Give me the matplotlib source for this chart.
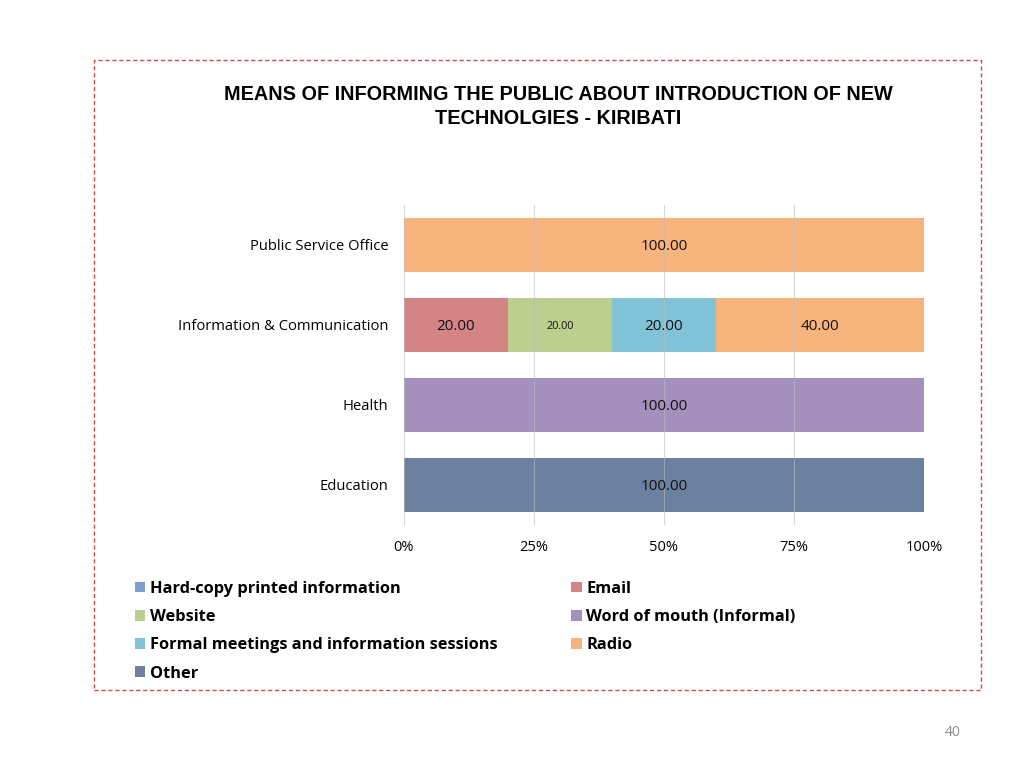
import matplotlib.pyplot as plt
import numpy as np
from matplotlib.patches import Rectangle

categories = ['Education', 'Health', 'Information & Communication', 'Public Service Office']
series = ['Hard-copy printed information', 'Email', 'Website', 'Word of mouth (Informal)',
          'Formal meetings and information sessions', 'Radio', 'Other']
values = {
    'Hard-copy printed information': [0, 0, 0, 0],
    'Email': [0, 0, 20, 0],
    'Website': [0, 0, 20, 0],
    'Word of mouth (Informal)': [0, 100, 0, 0],
    'Formal meetings and information sessions': [0, 0, 20, 0],
    'Radio': [0, 0, 40, 100],
    'Other': [100, 0, 0, 0],
}
colors = ['#7f9fcb', '#d38585', '#bccf8e', '#a58fbd', '#80c3d6', '#f8b47d', '#6b819f']

fig = plt.figure(figsize=(10.24, 7.68), dpi=100)
ax = fig.add_axes([404/1024, 1-525/768, 520/1024, 320/768])

y = np.arange(len(categories))
left = np.zeros(len(categories))
handles = []
for s, c in zip(series, colors):
    v = np.array(values[s], dtype=float)
    bars = ax.barh(y, v, left=left, height=0.675, color=c, zorder=2, label=s)
    handles.append(bars)
    for i, val in enumerate(v):
        if val > 0:
            fs = 7.8 if s == 'Website' else 11
            ax.text(left[i] + val/2, y[i] - 0.02, '%.2f' % val, ha='center', va='center',
                    fontsize=fs, family='Open Sans', color='#111111', zorder=4)
    left += v

ax.set_xlim(0, 100)
ax.set_ylim(-0.5, 3.5)
ax.set_xticks([0, 25, 50, 75, 100])
ax.set_xticklabels(['0%', '25%', '50%', '75%', '100%'], family='Open Sans', fontsize=10.5)
ax.set_yticks(y)
ax.set_yticklabels(categories, family='Open Sans', fontsize=10.6)
ax.tick_params(axis='both', length=0)
ax.tick_params(axis='x', pad=11)
ax.tick_params(axis='y', pad=11)
for sp in ax.spines.values():
    sp.set_visible(False)
ax.grid(axis='x', color='#bcbcbc', linewidth=0.8, alpha=0.6, zorder=3)
ax.set_axisbelow(False)

fig.text(0.545, 1-94/768, 'MEANS OF INFORMING THE PUBLIC ABOUT INTRODUCTION OF NEW',
         ha='center', va='center', fontsize=14.3, fontweight='bold', family='Liberation Sans')
fig.text(0.545, 1-118/768, 'TECHNOLGIES - KIRIBATI',
         ha='center', va='center', fontsize=14.3, fontweight='bold', family='Liberation Sans')

# legend, filled column-first
order = [0, 2, 4, 6, 1, 3, 5]
leg = fig.legend([handles[i] for i in order], [series[i] for i in order],
                 loc='upper left', bbox_to_anchor=(120/1024, 1-566/768), ncol=2,
                 frameon=False, prop={'family': 'Open Sans', 'weight': 'bold', 'size': 11.8},
                 handlelength=0.65, handleheight=0.65, handletextpad=0.3,
                 labelspacing=0.75, columnspacing=4.45)

fig.patches.append(Rectangle((94/1024, 1-690/768), 887/1024, 630/768, transform=fig.transFigure,
                             fill=False, edgecolor='#cc4a4a', linestyle=(0, (3, 2)), linewidth=1))
fig.text(953/1024, 1-733/768, '40', ha='center', va='center', fontsize=10, color='#8a8a8a',
         family='Open Sans')

fig.savefig('out.png', dpi=100)
